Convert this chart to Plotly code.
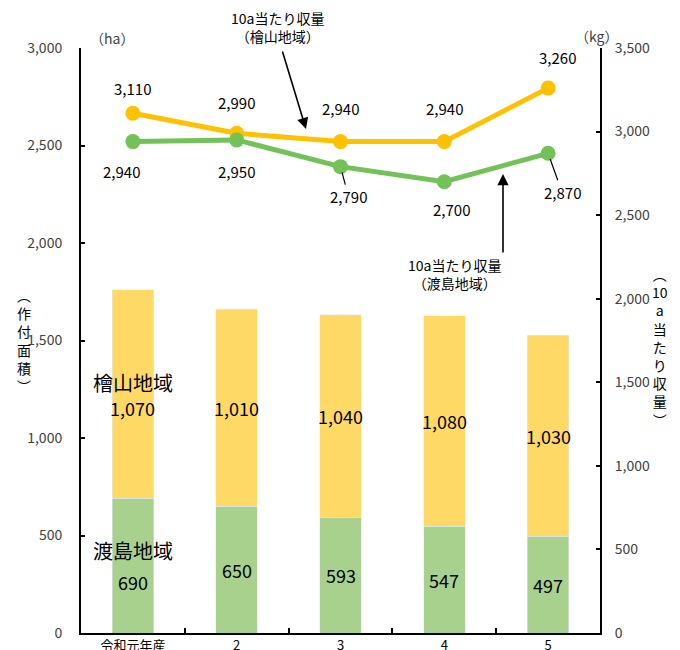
import plotly.graph_objects as go

categories = ["令和元年産", "2", "3", "4", "5"]
oshima_area = [690, 650, 593, 547, 497]
hiyama_area = [1070, 1010, 1040, 1080, 1030]
hiyama_yield = [3110, 2990, 2940, 2940, 3260]
oshima_yield = [2940, 2950, 2790, 2700, 2870]
left_ticks = [0, 500, 1000, 1500, 2000, 2500, 3000]
right_ticks = [0, 500, 1000, 1500, 2000, 2500, 3000, 3500]

FONT = "Noto Sans CJK JP"
C_YBAR = "#FFD966"
C_GBAR = "#A9D18E"
C_YLINE = "#FFC000"
C_GLINE = "#72C257"

xs = list(range(len(categories)))

fig = go.Figure()
fig.add_bar(x=xs, y=oshima_area, marker_color=C_GBAR, name="渡島地域", yaxis="y", width=0.4)
fig.add_bar(x=xs, y=hiyama_area, marker_color=C_YBAR, name="檜山地域", yaxis="y", width=0.4)
fig.add_scatter(x=xs, y=hiyama_yield, mode="lines+markers", yaxis="y2",
                line=dict(color=C_YLINE, width=5), marker=dict(size=15, color=C_YLINE))
fig.add_scatter(x=xs, y=oshima_yield, mode="lines+markers", yaxis="y2",
                line=dict(color=C_GLINE, width=5), marker=dict(size=15, color=C_GLINE))

ann = []
fmt = lambda v: f"{v:,}"
bigfont = dict(family=FONT, size=18, color="black")
# bar values
for i in xs:
    g, h = oshima_area[i], hiyama_area[i]
    gs = 16 if i == 0 else 0
    hs = 14 if i == 0 else 0
    ann.append(dict(x=i, y=g / 2, xref="x", yref="y", text=fmt(g), showarrow=False,
                    yshift=-gs, font=bigfont))
    ann.append(dict(x=i, y=g + h / 2, xref="x", yref="y", text=fmt(h), showarrow=False,
                    yshift=-hs, font=bigfont))
ann.append(dict(x=0, y=oshima_area[0] / 2, xref="x", yref="y", text="渡島地域",
                showarrow=False, yshift=15, font=dict(family=FONT, size=20, color="black")))
ann.append(dict(x=0, y=oshima_area[0] + hiyama_area[0] / 2, xref="x", yref="y",
                text="檜山地域", showarrow=False, yshift=12,
                font=dict(family=FONT, size=20, color="black")))

lblfont = dict(family=FONT, size=15, color="black")
# yellow line labels
ysh = [(0, 25), (0, 31), (0, 33), (0, 33), (9, 31)]
for i in xs:
    ann.append(dict(x=i, y=hiyama_yield[i], xref="x", yref="y2", text=fmt(hiyama_yield[i]),
                    showarrow=False, xshift=ysh[i][0], yshift=ysh[i][1], font=lblfont))
# green line labels
gsh = [(-11, -30), (0, -32), None, (7, -28), None]
for i in xs:
    if gsh[i] is not None:
        ann.append(dict(x=i, y=oshima_yield[i], xref="x", yref="y2", text=fmt(oshima_yield[i]),
                        showarrow=False, xshift=gsh[i][0], yshift=gsh[i][1], font=lblfont))
lead = {2: (8, 30), 4: (14, 39)}
for i, (ax, ay) in lead.items():
    ann.append(dict(x=i, y=oshima_yield[i], xref="x", yref="y2", text=fmt(oshima_yield[i]),
                    showarrow=True, ax=ax, ay=ay, arrowhead=0, arrowwidth=1.2, arrowcolor="black",
                    standoff=6, font=lblfont))

W, H = 680, 650
L, R, T, B = 81, 80, 48, 17
pw, ph = W - L - R, H - T - B
px = lambda x: (x - L) / pw
py = lambda y: (H - B - y) / ph
# callout arrows (pixel offsets of the tail from the head)
ann.append(dict(x=px(306), y=py(129), xref="paper", yref="paper", ax=282 - 306, ay=50 - 129,
                text="", showarrow=True, arrowhead=2,
                arrowsize=1.4, arrowwidth=1.6, arrowcolor="black"))
ann.append(dict(x=px(503), y=py(174), xref="paper", yref="paper", ax=0, ay=254 - 174,
                text="", showarrow=True, arrowhead=2,
                arrowsize=1.4, arrowwidth=1.6, arrowcolor="black"))
cfont = dict(family=FONT, size=14, color="black")
ann.append(dict(x=px(277), y=py(27), xref="paper", yref="paper", text="10a当たり収量<br>（檜山地域）",
                showarrow=False, font=cfont, yanchor="middle"))
ann.append(dict(x=px(503), y=py(274), xref="paper", yref="paper", text="10a当たり収量<br>（渡島地域）",
                showarrow=False, font=cfont, yanchor="middle"))
# units
ufont = dict(family=FONT, size=14, color="#404040")
ann.append(dict(x=px(88), y=py(26), xref="paper", yref="paper", text="（ha）", showarrow=False, font=ufont))
ann.append(dict(x=px(620), y=py(24), xref="paper", yref="paper", text="（kg）", showarrow=False, font=ufont))
# vertical axis titles
vfont = dict(family=FONT, size=14, color="black")
ann.append(dict(x=px(15), y=py(340), xref="paper", yref="paper",
                text="︵<br>作<br>付<br>面<br>積<br>︶", showarrow=False, font=vfont))
ann.append(dict(x=px(670), y=py(347), xref="paper", yref="paper",
                text="︵<br>10<br>a<br>当<br>た<br>り<br>収<br>量<br>︶", showarrow=False, font=vfont))

tickfont = dict(family=FONT, size=14, color="#404040")
fig.update_layout(
    width=W, height=H, margin=dict(l=L, r=R, t=T, b=B, autoexpand=False),
    plot_bgcolor="white", paper_bgcolor="white",
    barmode="stack", showlegend=False,
    annotations=ann,
    xaxis=dict(range=[-0.5, 4.5], tickvals=xs, ticktext=categories, ticks="", automargin=False,
               showline=True, linecolor="black", linewidth=2, showgrid=False, zeroline=False,
               minor=dict(tickvals=[i + 0.5 for i in xs[:-1]], ticks="inside", ticklen=5,
                          tickwidth=1.5, tickcolor="black", showgrid=False),
               tickfont=dict(family=FONT, size=13, color="black"), ticklabelstandoff=-1),
    yaxis=dict(range=[0, 3000], tickvals=left_ticks, tickformat=",", showline=True, automargin=False,
               linecolor="black", linewidth=2, ticks="inside", ticklen=4, tickwidth=1.5,
               tickcolor="black", showgrid=False, zeroline=False, tickfont=tickfont,
               ticklabelstandoff=14),
    yaxis2=dict(range=[0, 3500], tickvals=right_ticks, tickformat=",", overlaying="y",
                side="right", showline=True, linecolor="black", linewidth=2, ticks="inside",
                automargin=False,
                ticklen=4, tickwidth=1.5, tickcolor="black", showgrid=False, zeroline=False,
                tickfont=tickfont, ticklabelstandoff=10),
)
fig.write_html("out.html", config={"displayModeBar": False},
               post_script="document.body.style.margin='0';")
